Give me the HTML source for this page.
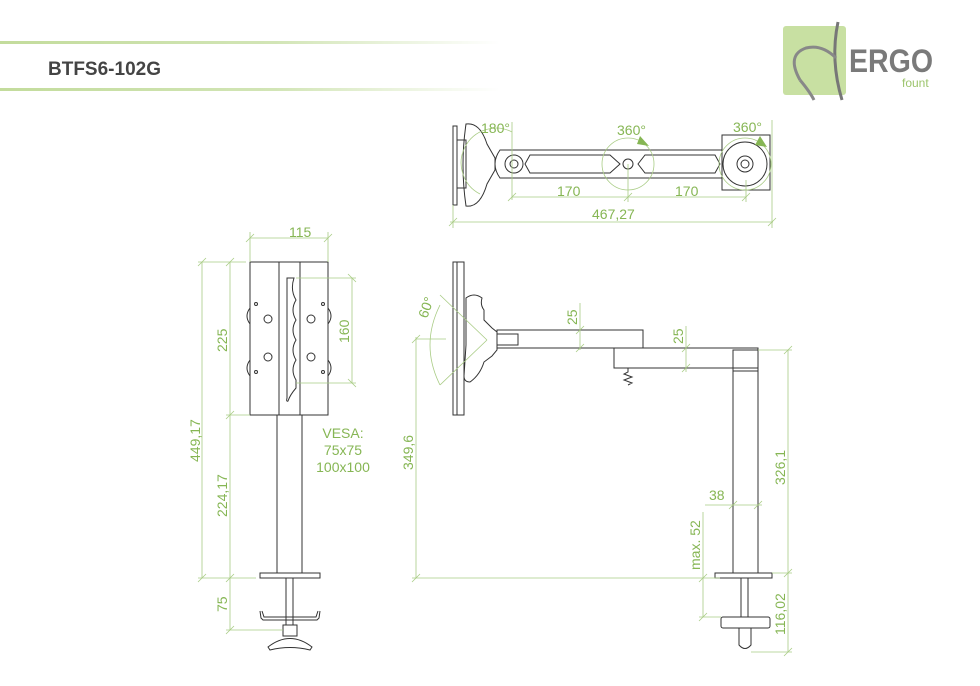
<!DOCTYPE html>
<html><head><meta charset="utf-8"><style>
html,body{margin:0;padding:0;background:#fff;}
svg{display:block;}
text{font-family:"Liberation Sans",sans-serif;}
.g{fill:#86b654;font-size:14px;}
.d{stroke:#a9cc85;stroke-width:0.8;fill:none;}
.k{stroke:#333;stroke-width:1;fill:#fff;}
.kn{stroke:#333;stroke-width:1;fill:none;}
</style></head><body>
<svg width="980" height="686" viewBox="0 0 980 686" xmlns="http://www.w3.org/2000/svg">
<defs>
<linearGradient id="hl" x1="0" x2="1"><stop offset="0" stop-color="#c3dc9c"/><stop offset="0.55" stop-color="#d2e5b6"/><stop offset="1" stop-color="#fff"/></linearGradient>
</defs>
<rect x="0" y="41" width="500" height="3" fill="url(#hl)"/>
<rect x="0" y="88" width="500" height="3" fill="url(#hl)"/>
<text x="48" y="75" style="font-size:19px;font-weight:bold;fill:#444">BTFS6-102G</text>
<rect x="783" y="26" width="63" height="69" rx="3" fill="#c8e0a2"/>
<path d="M838 22 Q830 60 842 100" stroke="#777" stroke-width="3" fill="none"/>
<path d="M800 80 Q786 55 806 48 Q822 44 836 58" stroke="#888" stroke-width="3" fill="none"/>
<path d="M800 80 Q810 92 814 100" stroke="#888" stroke-width="3" fill="none"/>
<text x="849" y="72" style="font-size:32px;font-weight:bold;fill:#7a7a7a" textLength="84" lengthAdjust="spacingAndGlyphs">ERGO</text>
<text x="902" y="87" style="font-size:12px;fill:#9cc46c">fount</text>

<!-- TOP VIEW -->
<rect x="453" y="126" width="4" height="79" class="k"/>
<path d="M466 124 Q460 165 466 206 Q480 208 487 184 L495 170 L495 158 L487 144 Q480 122 466 124 Z" class="k"/>
<rect x="457" y="140" width="9" height="48" class="kn"/>
<path d="M500 150 L722 150 L722 178 L500 178 Q490 164 500 150 Z" class="k"/>
<path d="M530 155 L610 155 L620 164 L610 173 L530 173 L525 164 Z" class="kn"/>
<path d="M645 155 L715 155 L720 164 L715 173 L645 173 L638 164 Z" class="kn"/>
<rect x="722" y="135" width="48" height="55" class="k"/>
<circle cx="745" cy="164" r="22" class="k"/>
<circle cx="514" cy="164" r="9" class="k"/><circle cx="514" cy="164" r="4" class="kn"/>
<circle cx="628" cy="164" r="5" class="k"/>
<circle cx="745" cy="164" r="8" class="k"/><circle cx="745" cy="164" r="4" class="kn"/>
<circle cx="628" cy="164" r="26" class="d"/>
<circle cx="745" cy="164" r="26" class="d"/>
<path d="M512 132 A34 34 0 0 0 480 194" class="d"/>
<line x1="512" y1="122" x2="512" y2="200" class="d"/>
<path d="M637 144 L649 146 L640 136 Z" fill="#86b654"/>
<path d="M755 145 L767 147 L760 136 Z" fill="#86b654"/>
<line x1="512" y1="197" x2="746" y2="197" class="d"/>
<line x1="628" y1="164" x2="628" y2="202" class="d"/>
<line x1="746" y1="180" x2="746" y2="202" class="d"/>
<line x1="450" y1="222" x2="773" y2="222" class="d"/>
<line x1="453" y1="205" x2="453" y2="228" class="d"/>
<line x1="772" y1="120" x2="772" y2="228" class="d"/>
<path d="M508 201 L516 193 M624 201 L632 193 M742 201 L750 193 M449 226 L457 218 M768 226 L776 218" class="d"/>
<text x="481" y="133" class="g">180°</text>
<text x="617" y="135" class="g">360°</text>
<text x="733" y="132" class="g">360°</text>
<text x="557" y="196" class="g">170</text>
<text x="675" y="196" class="g">170</text>
<text x="592" y="219" class="g">467,27</text>

<!-- FRONT VIEW -->
<rect x="250" y="262" width="78" height="153" class="k"/>
<line x1="279" y1="262" x2="279" y2="415" class="kn"/>
<line x1="300" y1="262" x2="300" y2="415" class="kn"/>
<path d="M287 278 L294 278 Q290 290 296 300 Q290 310 296 320 Q290 330 296 340 Q290 350 296 360 Q290 370 296 380 L296 388 Q290 395 288 401 Q286 402 287 398 Z" class="kn"/>
<circle cx="268" cy="319" r="4" class="kn"/><circle cx="268" cy="357" r="4" class="kn"/>
<circle cx="311" cy="319" r="4" class="kn"/><circle cx="311" cy="357" r="4" class="kn"/>
<circle cx="256" cy="304" r="1.5" class="kn"/><circle cx="256" cy="372" r="1.5" class="kn"/>
<circle cx="323" cy="304" r="1.5" class="kn"/><circle cx="323" cy="372" r="1.5" class="kn"/>
<path d="M250 308 Q244 316 250 324 M250 360 Q244 368 250 376 M328 308 Q334 316 328 324 M328 360 Q334 368 328 376" class="kn"/>
<rect x="277" y="415" width="25" height="158" class="k"/>
<rect x="260" y="573" width="60" height="5" class="k"/>
<rect x="286" y="578" width="7" height="47" class="k"/>
<path d="M260 611 L261 618 L263 620 L317 620 L319 618 L320 611 M262 611 L264 617 L316 617 L318 611" class="kn"/>
<rect x="283" y="625" width="14" height="11" class="k"/>
<path d="M268 647 Q290 630 312 647 L310 650 Q290 645 270 650 Z" class="k"/>
<line x1="250" y1="238" x2="328" y2="238" class="d"/>
<line x1="250" y1="232" x2="250" y2="262" class="d"/>
<line x1="328" y1="232" x2="328" y2="262" class="d"/>
<line x1="202" y1="262" x2="202" y2="578" class="d"/>
<line x1="230" y1="262" x2="230" y2="630" class="d"/>
<line x1="198" y1="262" x2="246" y2="262" class="d"/>
<line x1="226" y1="415" x2="250" y2="415" class="d"/>
<line x1="198" y1="578" x2="256" y2="578" class="d"/>
<line x1="226" y1="630" x2="283" y2="630" class="d"/>
<line x1="352" y1="278" x2="352" y2="383" class="d"/>
<line x1="296" y1="278" x2="356" y2="278" class="d"/>
<line x1="296" y1="383" x2="356" y2="383" class="d"/>
<path d="M246 242 L254 234 M324 242 L332 234 M198 266 L206 258 M198 582 L206 574 M226 266 L234 258 M226 419 L234 411 M226 582 L234 574 M226 634 L234 626 M348 274 L356 282 M348 379 L356 387" class="d"/>
<text x="289" y="237" class="g">115</text>
<text transform="translate(200,440) rotate(-90)" x="-22" y="0" class="g">449,17</text>
<text transform="translate(227,340) rotate(-90)" x="-12" y="0" class="g">225</text>
<text transform="translate(227,495) rotate(-90)" x="-22" y="0" class="g">224,17</text>
<text transform="translate(227,604) rotate(-90)" x="-8" y="0" class="g">75</text>
<text transform="translate(349,331) rotate(-90)" x="-12" y="0" class="g">160</text>
<text x="343" y="438" class="g" text-anchor="middle">VESA:</text>
<text x="343" y="455" class="g" text-anchor="middle">75x75</text>
<text x="343" y="472" class="g" text-anchor="middle">100x100</text>

<!-- SIDE VIEW -->
<rect x="453" y="262" width="11" height="153" class="k"/>
<line x1="457" y1="262" x2="457" y2="415" class="kn"/>
<path d="M466 298 Q474 292 482 298 Q480 305 484 310 L484 320 L492 328 L497 332 L497 350 L492 356 L484 362 Q480 375 470 382 Q464 382 464 376 L466 345 Z" class="k"/>
<rect x="497" y="330" width="146" height="18" class="k"/>
<rect x="497" y="334" width="21" height="11" class="kn"/>
<rect x="614" y="348" width="144" height="20" class="k"/>
<path d="M628 368 L628 372 L624 374 L632 377 L624 380 L632 383 L628 385" class="kn"/>
<rect x="733" y="350" width="25" height="223" class="k"/>
<line x1="733" y1="368" x2="758" y2="368" class="kn"/>
<line x1="733" y1="371" x2="758" y2="371" class="kn"/>
<rect x="715" y="573" width="57" height="5" class="k"/>
<rect x="741" y="578" width="7" height="39" class="k"/>
<rect x="721" y="617" width="49" height="11" rx="2" class="k"/>
<path d="M739 628 L751 628 L751 645 Q745 652 739 645 Z" class="k"/>
<path d="M440 305 Q420 345 440 385" class="d"/>
<line x1="440" y1="295" x2="487" y2="340" class="d"/>
<line x1="440" y1="385" x2="487" y2="340" class="d"/>
<line x1="416" y1="339" x2="446" y2="339" class="d"/>
<line x1="416" y1="337" x2="416" y2="578" class="d"/>
<line x1="412" y1="578" x2="720" y2="578" class="d"/>
<line x1="788" y1="350" x2="788" y2="652" class="d"/>
<line x1="758" y1="350" x2="792" y2="350" class="d"/>
<line x1="772" y1="573" x2="792" y2="573" class="d"/>
<line x1="751" y1="652" x2="792" y2="652" class="d"/>
<line x1="703" y1="512" x2="703" y2="617" class="d"/>
<line x1="699" y1="617" x2="721" y2="617" class="d"/>
<line x1="705" y1="505" x2="762" y2="505" class="d"/>
<line x1="580" y1="303" x2="580" y2="350" class="d"/>
<line x1="686" y1="326" x2="686" y2="372" class="d"/>
<path d="M412 343 L420 335 M412 582 L420 574 M784 354 L792 346 M784 577 L792 569 M784 656 L792 648 M699 582 L707 574 M699 621 L707 613 M729 509 L737 501 M754 509 L762 501 M576 334 L584 326 M576 352 L584 344 M682 352 L690 344 M682 372 L690 364" class="d"/>
<text transform="translate(427,319) rotate(-70)" class="g">60°</text>
<text transform="translate(413,470) rotate(-90)" class="g">349,6</text>
<text transform="translate(785,485) rotate(-90)" class="g">326,1</text>
<text transform="translate(785,635) rotate(-90)" class="g">116,02</text>
<text transform="translate(700,570) rotate(-90)" class="g">max. 52</text>
<text transform="translate(577,325) rotate(-90)" class="g">25</text>
<text transform="translate(683,344) rotate(-90)" class="g">25</text>
<text x="709" y="500" class="g">38</text>
</svg>
</body></html>
